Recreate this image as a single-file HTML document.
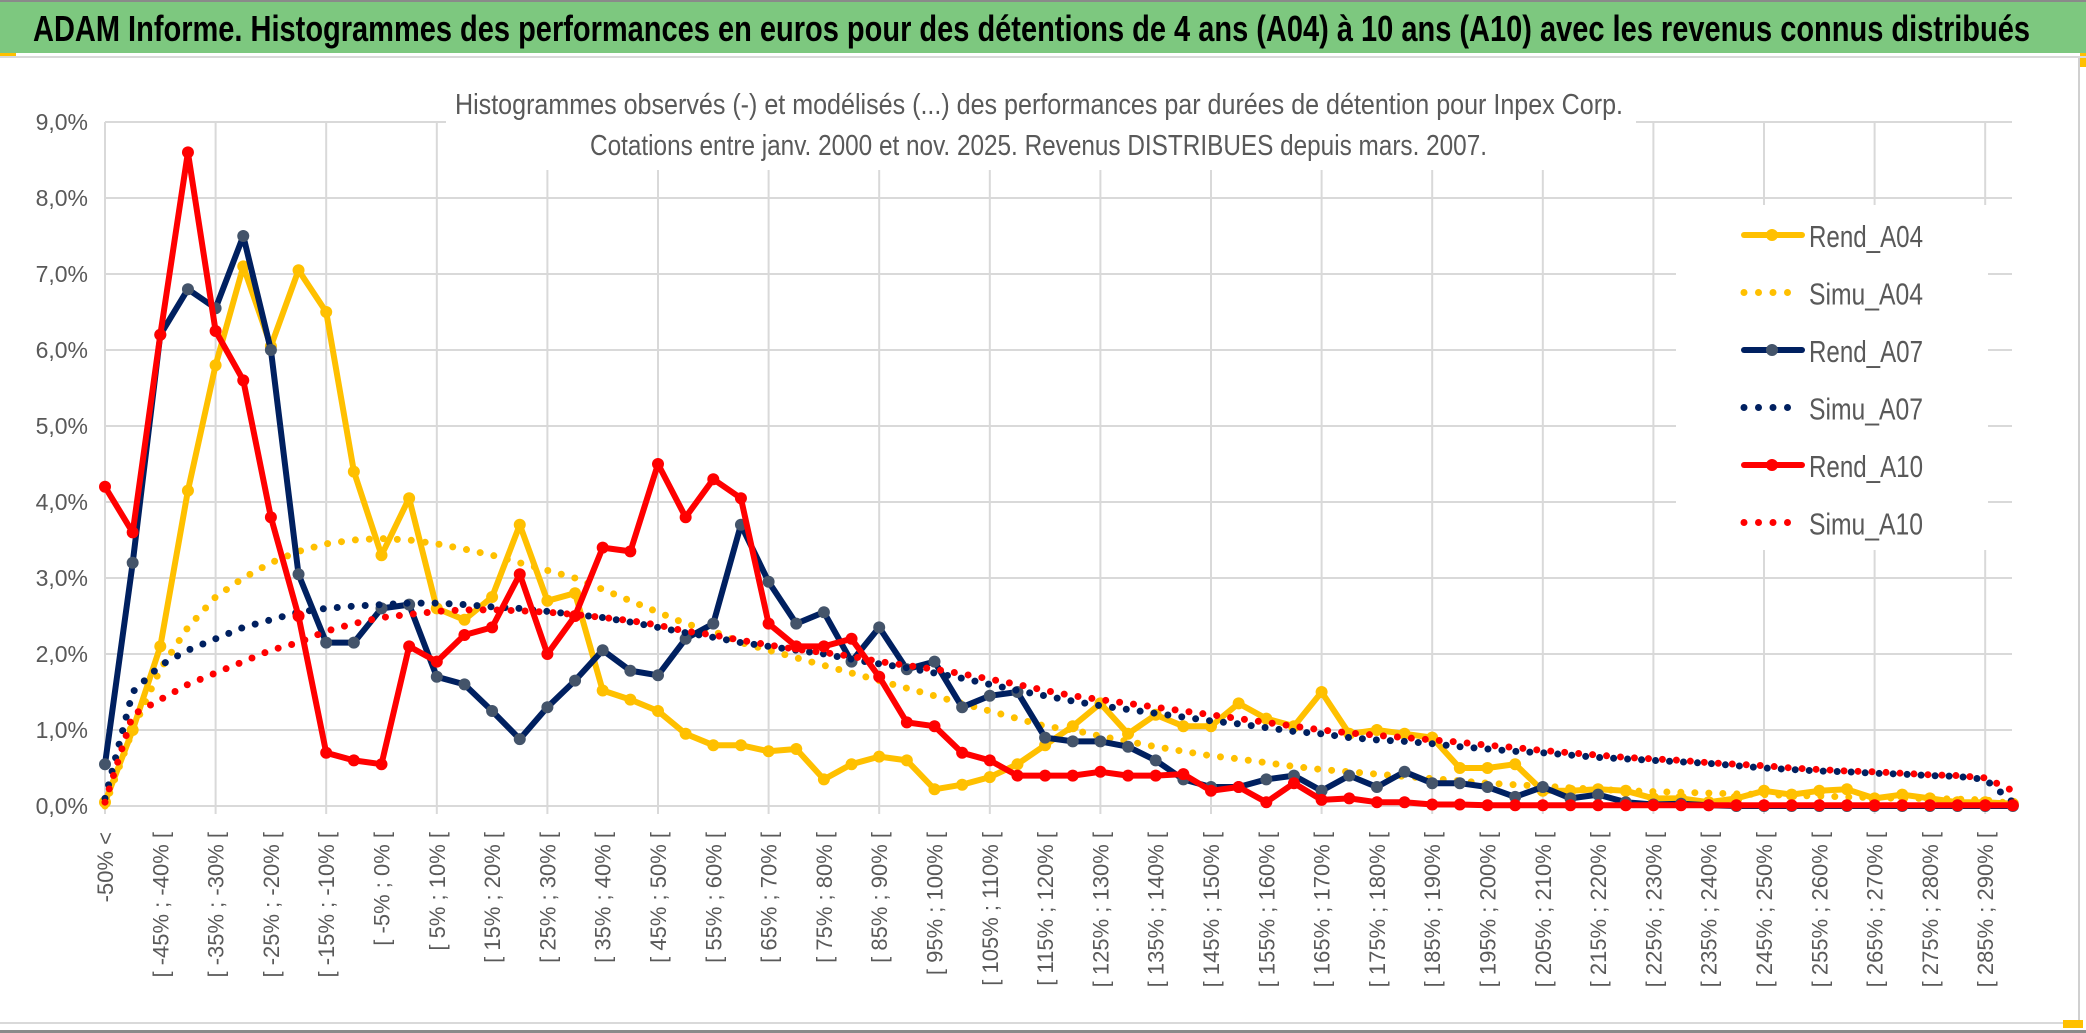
<!DOCTYPE html>
<html><head><meta charset="utf-8">
<style>
html,body{margin:0;padding:0;background:#fff;}
svg{display:block;}
</style></head>
<body>
<svg id="chart" width="2086" height="1033" viewBox="0 0 2086 1033" xmlns="http://www.w3.org/2000/svg" font-family="'Liberation Sans', sans-serif">
  <rect x="0" y="0" width="2086" height="1033" fill="#fff"/>
  <rect x="0" y="2" width="2086" height="51" fill="#7dc87f"/>
  <rect x="0" y="0" width="2086" height="2" fill="#8a8a8a"/>
  <rect x="0" y="53" width="16" height="4" fill="#ffc000"/>
  <rect x="2080" y="53" width="6" height="14" fill="#ffc000"/>
  <rect x="0" y="56" width="2086" height="2" fill="#d9d9d9"/>
  <text x="33" y="41" font-size="36" font-weight="bold" fill="#000" textLength="1997" lengthAdjust="spacingAndGlyphs">ADAM Informe. Histogrammes des performances en euros pour des détentions de 4 ans (A04) à 10 ans (A10) avec les revenus connus distribués</text>
  <rect x="2078" y="58" width="2" height="970" fill="#d0d0d0"/>
  <rect x="0" y="1022" width="2080" height="2" fill="#d9d9d9"/>
  <rect x="0" y="1030" width="2086" height="3" fill="#8a8a8a"/>
  <rect x="2063" y="1020" width="20" height="8" fill="#ffc000"/>
  <g id="grid"></g>
  <rect x="446" y="70" width="1190" height="100" fill="#fff"/>
  <rect x="1676" y="205" width="312" height="345" fill="#fff"/>
  <text x="455" y="114" font-size="29" fill="#595959" textLength="1168" lengthAdjust="spacingAndGlyphs">Histogrammes observés (-) et modélisés (...) des performances par durées de détention pour Inpex Corp.</text>
  <text x="590" y="155" font-size="29" fill="#595959" textLength="897" lengthAdjust="spacingAndGlyphs">Cotations entre janv. 2000 et nov. 2025. Revenus DISTRIBUES depuis mars. 2007.</text>
  <g id="yaxis"></g>
  <g id="xaxis"></g>
  <g id="series"></g>
  <g id="legend"></g>
</svg>
<script>
const rendA04 = [0.05,1.0,2.1,4.15,5.8,7.1,6.05,7.05,6.5,4.4,3.3,4.05,2.6,2.45,2.75,3.7,2.7,2.8,1.52,1.4,1.25,0.95,0.8,0.8,0.72,0.75,0.35,0.55,0.65,0.6,0.22,0.28,0.38,0.55,0.8,1.05,1.35,0.95,1.2,1.05,1.05,1.35,1.15,1.05,1.5,0.95,1.0,0.95,0.9,0.5,0.5,0.55,0.2,0.2,0.22,0.2,0.1,0.1,0.05,0.1,0.2,0.15,0.2,0.22,0.1,0.15,0.1,0.05,0.05,0.03];
const simuA04 = [0,1.0,1.8,2.35,2.75,3.0,3.2,3.35,3.45,3.5,3.52,3.5,3.45,3.38,3.3,3.2,3.1,3.0,2.85,2.7,2.55,2.4,2.3,2.15,2.05,1.95,1.85,1.75,1.65,1.55,1.45,1.35,1.25,1.15,1.05,1.0,0.92,0.85,0.78,0.72,0.66,0.62,0.57,0.52,0.48,0.45,0.42,0.39,0.36,0.33,0.3,0.28,0.26,0.24,0.22,0.2,0.19,0.18,0.17,0.16,0.15,0.14,0.13,0.12,0.11,0.1,0.1,0.09,0.08,0.03];
const rendA07 = [0.55,3.2,6.2,6.8,6.55,7.5,6.0,3.05,2.15,2.15,2.6,2.65,1.7,1.6,1.25,0.88,1.3,1.65,2.05,1.78,1.72,2.2,2.4,3.7,2.95,2.4,2.55,1.9,2.35,1.8,1.9,1.3,1.45,1.5,0.9,0.85,0.85,0.78,0.6,0.35,0.25,0.25,0.35,0.4,0.2,0.4,0.25,0.45,0.3,0.3,0.25,0.12,0.25,0.1,0.15,0.05,0.02,0.03,0.01,0,0,0,0,0,0,0,0,0,0,0];
const simuA07 = [0.1,1.5,1.85,2.05,2.2,2.35,2.45,2.55,2.6,2.63,2.65,2.67,2.67,2.65,2.62,2.6,2.56,2.52,2.48,2.42,2.35,2.28,2.22,2.15,2.1,2.05,2.0,1.93,1.87,1.82,1.75,1.68,1.6,1.52,1.45,1.38,1.32,1.27,1.22,1.17,1.12,1.08,1.03,0.98,0.95,0.9,0.87,0.85,0.82,0.78,0.75,0.72,0.7,0.67,0.64,0.62,0.6,0.58,0.56,0.53,0.5,0.48,0.46,0.45,0.43,0.42,0.4,0.39,0.35,0.05];
const rendA10 = [4.2,3.6,6.2,8.6,6.25,5.6,3.8,2.5,0.7,0.6,0.55,2.1,1.9,2.25,2.35,3.05,2.0,2.5,3.4,3.35,4.5,3.8,4.3,4.05,2.4,2.1,2.1,2.2,1.7,1.1,1.05,0.7,0.6,0.4,0.4,0.4,0.45,0.4,0.4,0.42,0.2,0.25,0.05,0.3,0.08,0.1,0.05,0.05,0.02,0.02,0.01,0.01,0.01,0.01,0.01,0.01,0.01,0.01,0.01,0.01,0.01,0.01,0.01,0.01,0.01,0.01,0.01,0.01,0.01,0.01];
const simuA10 = [0.05,1.2,1.4,1.6,1.75,1.9,2.05,2.15,2.3,2.4,2.48,2.52,2.56,2.58,2.58,2.57,2.55,2.52,2.48,2.44,2.38,2.3,2.25,2.18,2.12,2.06,2.02,1.97,1.9,1.85,1.8,1.74,1.67,1.6,1.52,1.45,1.4,1.35,1.3,1.25,1.2,1.15,1.1,1.05,1.0,0.96,0.93,0.9,0.87,0.84,0.8,0.77,0.73,0.7,0.67,0.64,0.62,0.6,0.57,0.55,0.53,0.5,0.48,0.46,0.45,0.43,0.41,0.4,0.37,0.2];
const yTicks = [0,1,2,3,4,5,6,7,8,9];
const yTickLabels = ["0,0%","1,0%","2,0%","3,0%","4,0%","5,0%","6,0%","7,0%","8,0%","9,0%"];
const catLowers = [];
for (let k = 1; k < 70; k++) catLowers.push(-55 + 5 * k);
const categories = ["-50% <"].concat(catLowers.map(l => "[ " + l + "% ; " + (l + 5) + "% ["));

const NS = "http://www.w3.org/2000/svg";
const X0 = 105, STEP = 27.65, Y0 = 806, PER = 76, XR = 2012;
function xs(i){ return X0 + i * STEP; }
function ys(v){ return Y0 - v * PER; }
function mk(tag, parent){ const e = document.createElementNS(NS, tag); parent.appendChild(e); return e; }

const grid = document.getElementById('grid');
yTicks.forEach((t, i) => {
  const l = mk('line', grid);
  
  
  l.setAttribute('x1', X0); l.setAttribute('x2', XR);
  l.setAttribute('y1', ys(t)); l.setAttribute('y2', ys(t));
  l.setAttribute('stroke', '#d9d9d9'); l.setAttribute('stroke-width', '2');
});
for (let i = 0; i < categories.length; i += 4) {
  const l = mk('line', grid);
  
  
  l.setAttribute('x1', xs(i)); l.setAttribute('x2', xs(i));
  l.setAttribute('y1', ys(9)); l.setAttribute('y2', Y0 + 8);
  l.setAttribute('stroke', '#d9d9d9'); l.setAttribute('stroke-width', '2');
}
const yaxis = document.getElementById('yaxis');
yTicks.forEach((t, i) => {
  const tx = mk('text', yaxis);
  
  
  tx.setAttribute('x', 88); tx.setAttribute('y', ys(t) + 8);
  tx.setAttribute('text-anchor', 'end'); tx.setAttribute('font-size', '23');
  tx.setAttribute('fill', '#595959');
  tx.textContent = yTickLabels[i];
});
const xaxis = document.getElementById('xaxis');
categories.forEach((c, i) => {
  if (i % 2) return;
  const tx = mk('text', xaxis);
  
  
  const x = xs(i) + 8, y = 832;
  tx.setAttribute('x', x); tx.setAttribute('y', y);
  tx.setAttribute('transform', 'rotate(-90 ' + x + ' ' + y + ')');
  tx.setAttribute('text-anchor', 'end'); tx.setAttribute('font-size', '22');
  tx.setAttribute('fill', '#595959');
  tx.textContent = c;
});

const seriesG = document.getElementById('series');
function pts(arr){ return arr.map((v, i) => xs(i).toFixed(1) + ',' + ys(v).toFixed(1)).join(' '); }
function rend(arr, color, mcol, name){
  const g = mk('g', seriesG);
  
  
  const p = mk('polyline', g);
  
  
  p.setAttribute('points', pts(arr));
  p.setAttribute('fill', 'none'); p.setAttribute('stroke', color);
  p.setAttribute('stroke-width', '6'); p.setAttribute('stroke-linejoin', 'round');
  arr.forEach((v, i) => {
    const c = mk('circle', g);
    
    
    c.setAttribute('cx', xs(i)); c.setAttribute('cy', ys(v)); c.setAttribute('r', '6');
    c.setAttribute('fill', mcol);
  });
}
function simu(arr, color, name){
  const p = mk('polyline', seriesG);
  
  
  p.setAttribute('points', pts(arr));
  p.setAttribute('fill', 'none'); p.setAttribute('stroke', color);
  p.setAttribute('stroke-width', '7'); p.setAttribute('stroke-linecap', 'round');
  p.setAttribute('stroke-dasharray', '0 14');
}
rend(rendA04, '#ffc000', '#ffc000', 'rend-a04');
simu(simuA04, '#ffc000', 'simu-a04');
rend(rendA07, '#002060', '#44546a', 'rend-a07');
simu(simuA07, '#002060', 'simu-a07');
rend(rendA10, '#ff0000', '#ff0000', 'rend-a10');
simu(simuA10, '#ff0000', 'simu-a10');

const legend = document.getElementById('legend');
const legNames = ["Rend_A04","Simu_A04","Rend_A07","Simu_A07","Rend_A10","Simu_A10"];
const legColors = ["#ffc000","#ffc000","#002060","#002060","#ff0000","#ff0000"];
const legMarkers = ["#ffc000",null,"#44546a",null,"#ff0000",null];
legNames.forEach((n, i) => {
  const y = 235 + i * 57.5;
  const g = mk('g', legend);
  
  
  const l = mk('line', g);
  
  
  l.setAttribute('x1', 1744); l.setAttribute('x2', legMarkers[i] ? 1802 : 1792);
  l.setAttribute('y1', y); l.setAttribute('y2', y);
  l.setAttribute('stroke', legColors[i]); l.setAttribute('stroke-linecap', 'round');
  if (legMarkers[i]) {
    l.setAttribute('stroke-width', '6');
    const c = mk('circle', g);
    
    
    c.setAttribute('cx', 1772); c.setAttribute('cy', y); c.setAttribute('r', '6');
    c.setAttribute('fill', legMarkers[i]);
  } else {
    l.setAttribute('stroke-width', '7');
    l.setAttribute('stroke-dasharray', '0 14.5');
  }
  const t = mk('text', g);
  
  
  t.setAttribute('x', 1809); t.setAttribute('y', y + 12);
  t.setAttribute('font-size', '31'); t.setAttribute('fill', '#595959');
  t.setAttribute('textLength', '114'); t.setAttribute('lengthAdjust', 'spacingAndGlyphs');
  t.textContent = n;
});
</script>
</body></html>
